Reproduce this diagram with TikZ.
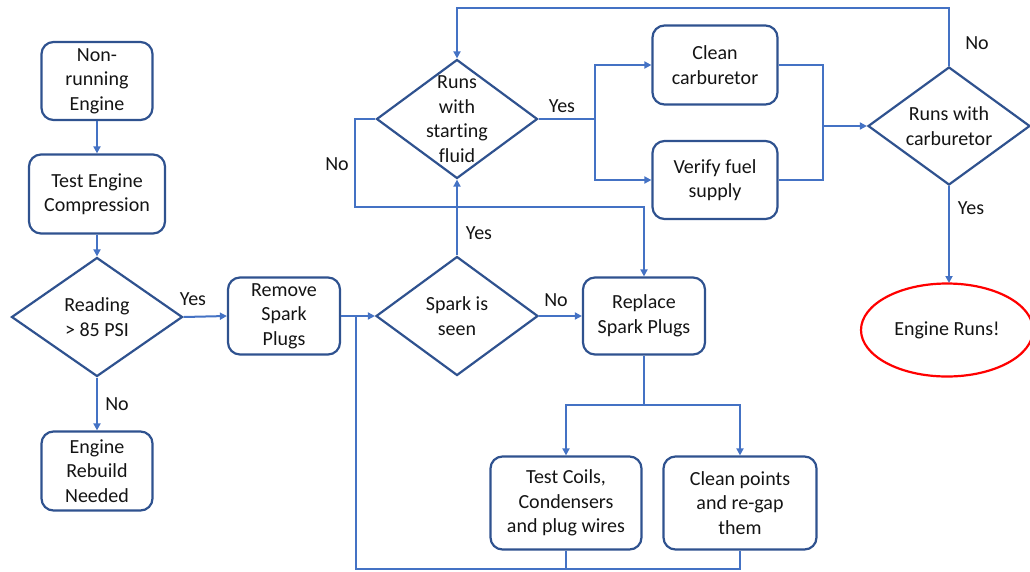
\documentclass[tikz,border=0pt]{standalone}
\usepackage{fontspec}
\setmainfont{Carlito}[Ligatures={NoCommon}]
\usetikzlibrary{shapes.geometric,arrows.meta}
\definecolor{boxblue}{RGB}{47,82,143}
\definecolor{lineblue}{RGB}{68,114,196}
\definecolor{txt}{RGB}{20,20,20}
\begin{document}
\begin{tikzpicture}[x=1pt,y=-1pt,
 box/.style={draw=boxblue,line width=2.2pt,rounded corners=12pt,align=center,text=txt,font=\fontsize{20}{24.5}\selectfont,inner sep=0pt},
 dia/.style={draw=boxblue,line width=2.2pt,diamond,inner sep=0pt},
 lbl/.style={font=\fontsize{20}{24.5}\selectfont,align=center,text=txt},
 conn/.style={draw=lineblue,line width=2pt},
 arr/.style={conn,-{Triangle[length=7pt,width=7pt]}}]
\useasboundingbox (0,0) rectangle (1030,571);
% nodes
\node[box,minimum width=111pt,minimum height=78pt] (start) at (97,81) {Non-\\running\\Engine};
\node[box,minimum width=136pt,minimum height=79pt] (test) at (97,194) {Test Engine\\Compression};
\node[dia,minimum width=171pt,minimum height=119pt] (reading) at (97,317) {};
\node[lbl] (readingt) at (97,317) {Reading\\> 85 PSI};
\node[box,minimum width=111pt,minimum height=79pt] (rebuild) at (97,471) {Engine\\Rebuild\\Needed};
\node[box,minimum width=112pt,minimum height=77pt] (remove) at (284,316) {Remove\\Spark\\Plugs};
\node[dia,minimum width=162pt,minimum height=119pt] (spark) at (457,316) {};
\node[lbl] (sparkt) at (457,316) {Spark is\\seen};
\node[dia,minimum width=161pt,minimum height=119pt] (fluid) at (457,119) {};
\node[lbl] (fluidt) at (457,119) {Runs\\with\\starting\\fluid};
\node[box,minimum width=122pt,minimum height=77pt] (replace) at (644,316) {Replace\\Spark Plugs};
\node[box,minimum width=151pt,minimum height=93pt] (coils) at (566,503) {Test Coils,\\Condensers\\and plug wires};
\node[box,minimum width=153pt,minimum height=93pt] (points) at (740,503) {Clean points\\and re-gap\\them};
\node[box,minimum width=125pt,minimum height=79pt] (carb) at (715,65) {Clean\\carburetor};
\node[box,minimum width=125pt,minimum height=78pt] (fuel) at (715,180) {Verify fuel\\supply};
\node[dia,minimum width=162pt,minimum height=118pt] (carbd) at (949,126) {};
\node[lbl] (carbdt) at (949,126) {Runs with\\carburetor};
\node[ellipse,draw=red,line width=2.2pt,minimum width=172pt,minimum height=93pt,lbl] (runs) at (947,330) {Engine Runs!};
% coordinates
\coordinate (j1) at (356,316);
\coordinate (jb) at (356,569);
\coordinate (jr) at (644,405);
\coordinate (jy) at (595,119);
\coordinate (jm) at (823,126);
\coordinate (jn) at (355,119);
\coordinate (jt) at (949,8);
% connectors
\draw[arr] (start) -- (test);
\draw[arr] (test) -- (reading.north);
\draw[arr] (reading.south) -- (rebuild);
\node[lbl] (lno1) at (117,404) {No};
\draw[arr] (reading.east) -- (remove.west);
\node[lbl] (lyes1) at (193,299) {Yes};
\draw[conn] (remove.east) -- (j1);
\draw[arr] (j1) -- (spark.west);
\draw[conn] (coils.south) -- (coils.south |- jb) -- (jb) -- (j1);
\draw[conn] (points.south) -- (points.south |- jb) -- (coils.south |- jb);
\draw[arr] (spark.east) -- (replace.west);
\node[lbl] (lno2) at (556,300) {No};
\draw[conn] (replace.south) -- (jr);
\draw[arr] (jr) -| (coils.north);
\draw[arr] (jr) -| (points.north);
\draw[arr] (spark.north) -- (fluid.south);
\node[lbl] (lyes2) at (479,233) {Yes};
\draw[arr] (fluid.west) -- (jn) -- (355,207) -| (replace.north);
\node[lbl] (lno3) at (337,164) {No};
\draw[conn] (fluid.east) -- (jy);
\draw[arr] (jy) |- (carb.west);
\draw[arr] (jy) |- (fuel.west);
\node[lbl] (lyes3) at (562,106) {Yes};
\draw[conn] (carb.east) -| (jm);
\draw[conn] (fuel.east) -| (jm);
\draw[arr] (jm) -- (carbd.west);
\draw[arr] (carbd.north) -- (jt) -| (fluid.north);
\node[lbl] (lno4) at (977,43) {No};
\draw[arr] (carbd.south) -- (949,283);
\node[lbl] (lyes4) at (971,208) {Yes};
\end{tikzpicture}
\end{document}
